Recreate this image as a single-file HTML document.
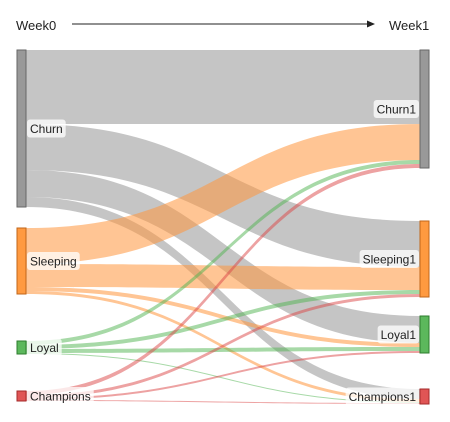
<!DOCTYPE html>
<html><head><meta charset="utf-8"><style>
body{margin:0;background:#fff;}
svg{display:block;font-family:"Liberation Sans",sans-serif;}
</style></head><body>
<svg id="chart" width="450" height="422">
<text x="16" y="30" font-size="13" fill="#222">Week0</text>
<line x1="72" y1="24" x2="368" y2="24" stroke="#222" stroke-width="1"/>
<polygon points="367,20.5 375,24 367,27.5" fill="#222"/>
<text x="389" y="30" font-size="13" fill="#222">Week1</text>
<g id="links"></g><g id="nodes"></g><g id="labels"></g>
</svg>
<script>
const sources = ["Churn","Sleeping","Loyal","Champions"];
const targets = ["Churn1","Sleeping1","Loyal1","Champions1"];
// flow[i][j] from source i to target j
const flowChurn = [74,46,27,10];
const flowSleeping = [36,23,4,3];
const flowLoyal = [4,4,4,1];
const flowChampions = [4,3,2,1];
const flows = [flowChurn,flowSleeping,flowLoyal,flowChampions];

const linkCol = ["rgba(150,150,150,0.55)","rgba(255,150,60,0.55)","rgba(80,180,80,0.5)","rgba(220,70,70,0.5)"];
const nodeFill = ["#999","#ff9a40","#5cb85c","#e05555"];
const nodeStroke = ["#666","#c0661a","#2e7d2e","#a52a2a"];
const leftTop = [50,228,341,391], rightTop = [50,221,316,389];
const xL=17,xR=420,nw=9;
const ns="http://www.w3.org/2000/svg";
const svg=document.getElementById('chart');
function mk(tag,attrs,parent){const e=document.createElementNS(ns,tag);for(const k in attrs)e.setAttribute(k,attrs[k]);parent.appendChild(e);return e;}
const srcTot=flows.map(r=>r.reduce((a,b)=>a+b,0));
const tgtTot=targets.map((t,j)=>flows.reduce((a,r)=>a+r[j],0));
const srcOff=leftTop.slice(), tgtOff=rightTop.slice();
const gL=document.getElementById('links');
const linkPos=[];
for(let i=0;i<4;i++)for(let j=0;j<4;j++){linkPos.push([i,j,srcOff[i],flows[i][j]]);srcOff[i]+=flows[i][j];}
const tStart={};
for(let j=0;j<4;j++)for(let i=0;i<4;i++){tStart[i+'-'+j]=tgtOff[j];tgtOff[j]+=flows[i][j];}
const x0=xL+nw,x1=xR,xm=(x0+x1)/2;
for(const [i,j,y0,v] of linkPos){
  const y1=tStart[i+'-'+j];
  const d=`M${x0},${y0}C${xm},${y0} ${xm},${y1} ${x1},${y1}L${x1},${y1+v}C${xm},${y1+v} ${xm},${y0+v} ${x0},${y0+v}Z`;
  const p=mk('path',{d:d,fill:linkCol[i]},gL);
  
  
}
const gN=document.getElementById('nodes'),gT=document.getElementById('labels');
function label(txt,x,y,anchor,name){
  const t=mk('text',{x:x,y:y+4.5,'font-size':12,fill:'#222','text-anchor':anchor},gT);
  t.textContent=txt;
  const w=t.getComputedTextLength();
  const bx=anchor==='end'?x-w-3:x-3;
  const r=document.createElementNS(ns,'rect');
  r.setAttribute('x',bx);r.setAttribute('y',y-9);r.setAttribute('width',w+6);r.setAttribute('height',18);r.setAttribute('rx',3);r.setAttribute('fill','rgba(255,255,255,0.75)');
  
  
  gT.insertBefore(r,t);
  
  
}
for(let i=0;i<4;i++){
  const r=mk('rect',{x:xL,y:leftTop[i],width:nw,height:srcTot[i],fill:nodeFill[i],stroke:nodeStroke[i],'stroke-width':1},gN);
  
  
  label(sources[i],xL+nw+4,leftTop[i]+srcTot[i]/2,'start','node-'+sources[i].toLowerCase());
}
for(let j=0;j<4;j++){
  const r=mk('rect',{x:xR,y:rightTop[j],width:nw,height:tgtTot[j],fill:nodeFill[j],stroke:nodeStroke[j],'stroke-width':1},gN);
  
  
  label(targets[j],xR-4,rightTop[j]+tgtTot[j]/2,'end','node-'+targets[j].toLowerCase());
}
</script>
</body></html>
